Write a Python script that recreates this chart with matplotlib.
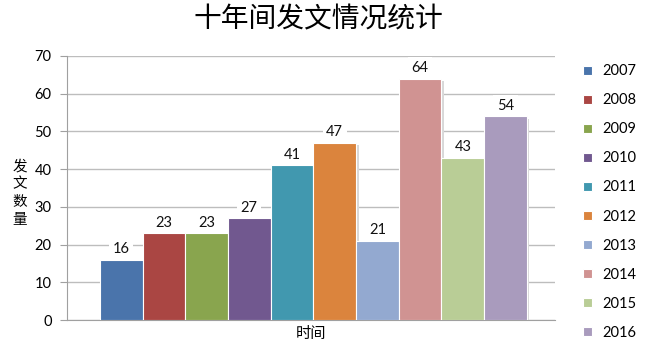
import numpy as np
import matplotlib
matplotlib.use('Agg')
import matplotlib.pyplot as plt

plt.rcParams['font.family'] = ['Lato', 'Noto Sans CJK SC', 'DejaVu Sans']

years = ['2007', '2008', '2009', '2010', '2011', '2012', '2013', '2014', '2015', '2016']
counts = [16, 23, 23, 27, 41, 47, 21, 64, 43, 54]
colors = ['#4A74AB', '#AA4643', '#89A54E', '#71588F', '#4198AF', '#DB843D',
          '#93A9D0', '#D09392', '#B9CD96', '#A99BBD']

fig = plt.figure(figsize=(6.5, 3.54), dpi=100)
ax = fig.add_axes([0.103, 0.096, 0.751, 0.746])

x = np.arange(len(years))
# shadow
for i in range(len(years)):
    ax.bar(x[i] + 0.06, counts[i] - 0.3, width=1.0, bottom=-0.3, color='#d8d8d8',
           edgecolor='none', zorder=2)
for i in range(len(years)):
    ax.bar(x[i], counts[i], width=1.0, color=colors[i], edgecolor='white',
           linewidth=0.8, label=years[i], zorder=3)
    ax.text(x[i], counts[i] + 2.8, str(counts[i]), ha='center', va='center',
            fontsize=10.5, color='#111111', zorder=4,
            bbox=dict(boxstyle='square,pad=0.25', fc='white', ec='none'))

ax.set_xlim(-1.27, 10.16)
ax.set_ylim(0, 70)
ax.set_yticks(range(0, 71, 10))
ax.tick_params(axis='y', labelsize=10.5, length=5, color='#a0a0a0', pad=6)
ax.set_xticks([])
ax.yaxis.grid(True, color='#bdbdbd', linewidth=1)
ax.set_axisbelow(True)
for s in ['top', 'right']:
    ax.spines[s].set_visible(False)
ax.spines['left'].set_color('#a0a0a0')
ax.spines['bottom'].set_color('#a0a0a0')

ax.set_xlabel('时间', fontsize=11, fontweight='medium', labelpad=5)
fig.text(0.03, 0.455, '发\n文\n数\n量', ha='center', va='center', fontsize=10.5,
         linespacing=1.35)
fig.text(0.49, 0.945, '十年间发文情况统计', ha='center', va='center', fontsize=20)

ax.legend(loc='upper left', bbox_to_anchor=(1.045, 0.99), frameon=False,
          fontsize=10.5, handlelength=0.6, handleheight=0.6, handletextpad=0.7,
          labelspacing=1.03, borderaxespad=0)

fig.savefig('out.png', dpi=100)
